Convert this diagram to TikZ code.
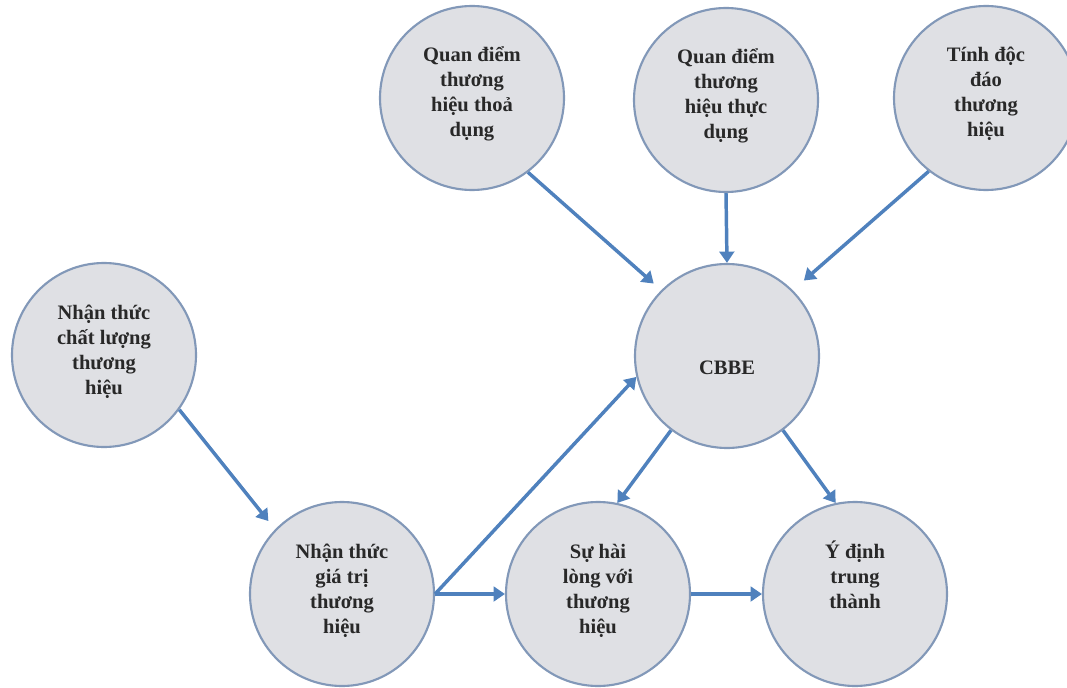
\documentclass[tikz,border=0pt]{standalone}
\usepackage{fontspec}
\setmainfont{Liberation Serif}
\usetikzlibrary{arrows.meta}
\definecolor{arrowblue}{RGB}{79,129,189}
\definecolor{ringcol}{RGB}{130,152,184}
\definecolor{fillcol}{RGB}{223,224,228}
\definecolor{txtcol}{RGB}{40,40,40}
\tikzset{
  circ/.style={circle, draw=ringcol, fill=fillcol, line width=1.6pt, minimum size=138pt, inner sep=0pt},
  lbl/.style={anchor=base, inner sep=0pt, text=txtcol, font=\fontsize{15.4pt}{18.75pt}\selectfont\bfseries},
  arr/.style={draw=arrowblue, line width=2.6pt, -{Triangle[width=11pt,length=8.5pt]}}
}
\newcommand{\lines}[1]{\parbox[t]{130pt}{\centering #1}}
\begin{document}
\begin{tikzpicture}[x=0.75pt,y=-0.75pt]
\useasboundingbox (0,0) rectangle (1067,688);
% circles
\node[circ] (c1) at (472,98) {};
\node[circ] (c2) at (726,100) {};
\node[circ] (c3) at (986,98) {};
\node[circ] (c4) at (104,355) {};
\node[circ] (cbbe) at (727,356) {};
\node[circ] (c5) at (342,594) {};
\node[circ] (c6) at (598,594) {};
\node[circ] (c7) at (855,594) {};
% labels
\node[lbl, yshift=27pt] (t1) at (c1.center) {\lines{Quan điểm\\ thương\\ hiệu thoả\\ dụng}};
\node[lbl, yshift=27pt] (t2) at (c2.center) {\lines{Quan điểm\\ thương\\ hiệu thực\\ dụng}};
\node[lbl, yshift=27pt] (t3) at (c3.center) {\lines{Tính độc\\ đáo\\ thương\\ hiệu}};
\node[lbl, yshift=27pt] (t4) at (c4.center) {\lines{Nhận thức\\ chất lượng\\ thương\\ hiệu}};
\node[lbl, yshift=-13.5pt] (tc) at (cbbe.center) {CBBE};
\node[lbl, yshift=27pt] (t5) at (c5.center) {\lines{Nhận thức\\ giá trị\\ thương\\ hiệu}};
\node[lbl, yshift=27pt] (t6) at (c6.center) {\lines{Sự hài\\ lòng với\\ thương\\ hiệu}};
\node[lbl, yshift=27pt] (t7) at (c7.center) {\lines{Ý định\\ trung\\ thành}};
% arrows
\draw[arr, shorten >=7.5pt] (c1.-53) -- (cbbe.135);
\draw[arr] (c2.south) -- (cbbe.north);
\draw[arr, shorten >=11pt] (c3.-128) -- (cbbe.45);
\draw[arr, shorten >=8pt] (c4.-36) -- (c5.136);
\draw[arr] (c5.east) -- (c6.west);
\draw[arr] (c5.east) -- (cbbe.193);
\draw[arr] (cbbe.233) -- (c6.78);
\draw[arr] (cbbe.-53) -- (c7.102);
\draw[arr] (c6.east) -- (c7.west);
\end{tikzpicture}
\end{document}
